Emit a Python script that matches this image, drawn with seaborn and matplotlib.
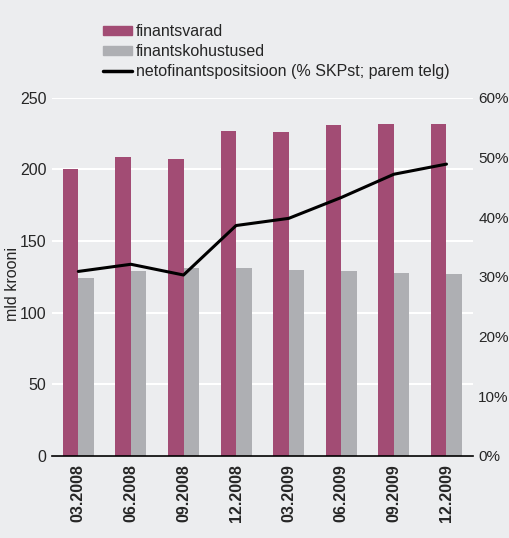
import seaborn as sns
import matplotlib.pyplot as plt
import matplotlib.patches as mpatches
import matplotlib.lines as mlines
import pandas as pd
import numpy as np

# andmed
quarters = ['03.2008', '06.2008', '09.2008', '12.2008',
            '03.2009', '06.2009', '09.2009', '12.2009']
finantsvarad = [200, 209, 207.5, 227, 226.5, 231, 232, 231.5]
finantskohustused = [124.5, 129, 131, 131, 130, 129, 128, 127]
netopositsioon = [30.9, 32.1, 30.3, 38.6, 39.8, 43.3, 47.2, 48.9]

labels = ['finantsvarad', 'finantskohustused',
          'netofinantspositsioon (% SKPst; parem telg)']
colors = ['#A24C74', '#AEAFB3']
bg = '#ECEDEF'

sns.set_theme(style='white')
plt.rcParams['font.family'] = ['Liberation Sans', 'DejaVu Sans']

df = pd.DataFrame({
    'kvartal': quarters * 2,
    'vaartus': finantsvarad + finantskohustused,
    'seeria': [labels[0]] * len(quarters) + [labels[1]] * len(quarters),
})

fig = plt.figure(figsize=(5.1, 5.38), dpi=100, facecolor=bg)
ax = fig.add_axes([0.102, 0.153, 0.825, 0.665])
ax.set_facecolor(bg)

sns.barplot(data=df, x='kvartal', y='vaartus', hue='seeria', palette=colors,
            width=0.59, saturation=1, linewidth=0, ax=ax, legend=False, zorder=2)
ax.set_ylim(0, 250)
ax.set_xlim(-0.5, 7.5)
ax.set_yticks([0, 50, 100, 150, 200, 250])
ax.grid(axis='y', color='white', linewidth=1.5, zorder=0)
ax.set_axisbelow(True)
ax.set_xlabel('')
ax.set_ylabel('mld krooni', fontsize=11.5)
ax.yaxis.set_label_coords(-0.075, 0.48)
ax.tick_params(axis='y', length=0, pad=4, labelsize=11.5)
ax.tick_params(axis='x', length=0, pad=6)
for lab in ax.get_xticklabels():
    lab.set_rotation(90)
    lab.set_fontweight('bold')
    lab.set_fontsize(11.5)
for side in ['left', 'right', 'top']:
    ax.spines[side].set_visible(False)
ax.spines['bottom'].set_color('black')
ax.spines['bottom'].set_linewidth(1.2)
ax.spines['bottom'].set_zorder(3)

ax2 = ax.twinx()
sns.lineplot(x=np.arange(len(quarters)), y=netopositsioon, ax=ax2,
             color='black', linewidth=2.2)
ax2.set_ylim(0, 60)
ax2.set_yticks([0, 10, 20, 30, 40, 50, 60])
ax2.set_yticklabels([f'{v}%' for v in [0, 10, 20, 30, 40, 50, 60]])
ax2.tick_params(axis='y', length=0, pad=4, labelsize=11)
for side in ['left', 'right', 'top', 'bottom']:
    ax2.spines[side].set_visible(False)
ax2.grid(False)

handles = [mpatches.Patch(color=colors[0]), mpatches.Patch(color=colors[1]),
           mlines.Line2D([], [], color='black', linewidth=2.5)]
fig.legend(handles, labels, loc='upper left', bbox_to_anchor=(0.189, 0.967),
           frameon=False, fontsize=11.5, handlelength=1.8, handleheight=0.45,
           handletextpad=0.25, labelspacing=0.32, borderaxespad=0)

fig.savefig('out.png', dpi=100, facecolor=bg)
